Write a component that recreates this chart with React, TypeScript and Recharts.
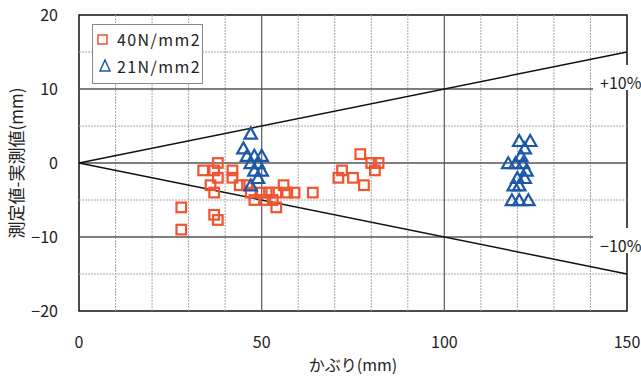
import { ScatterChart, Scatter, XAxis, YAxis, ReferenceLine, ReferenceArea, Legend } from "recharts";

const xTicks = [0, 50, 100, 150];
const yTicks = [-20, -10, 0, 10, 20];
const xMinorGrid = [10, 20, 30, 40, 60, 70, 80, 90, 110, 120, 130, 140];
const xMajorGrid = [50, 100];
const yMinorGrid = [-15, -5, 5, 15];
const yMajorGrid = [-10, 0, 10];

// 40N/mm2 (squares)
const c40x = [28, 28, 34, 36, 37, 37, 37, 38, 38, 38, 42, 42, 44, 46, 47, 48, 50, 51, 52, 53, 54, 54, 56, 57, 59, 64, 71, 72, 75, 77, 78, 80, 81, 82];
const c40y = [-6, -9, -1, -3, -1, -4, -7, 0, -2, -7.7, -1, -2, -3, -3, -4, -5, -4, -5, -4, -5, -4, -6, -3, -4, -4, -4, -2, -1, -2, 1.2, -3, 0, -1, 0];

// 21N/mm2 (triangles)
const c21x = [47, 45, 46, 48, 50, 47, 49, 48, 50, 49, 47, 120.5, 123.5, 122, 121, 117.5, 119.5, 121.5, 122.5, 120, 122, 119, 120.5, 118.5, 120.5, 123];
const c21y = [4, 2, 1, 1, 1, 0, 0, -1, -1, -2, -3, 3, 3, 2, 1, 0, 0, 0, -1, -2, -2, -3, -3, -5, -5, -5];

const bandLabels = ["+10%", "\u221210%"];
const bandRatio = [0.1, -0.1];
const xMax = 150;

const data40 = c40x.map((x, i) => ({ x, y: c40y[i] }));
const data21 = c21x.map((x, i) => ({ x, y: c21y[i] }));

const ORANGE = "#ee5530";
const BLUE = "#1d58a8";
const FONT = "'Noto Sans CJK JP', 'Noto Sans', sans-serif";

const Square = (props: any) => {
  const { cx, cy } = props;
  return <rect x={cx - 4.8} y={cy - 4.8} width={9.6} height={9.6} fill="none" stroke={ORANGE} strokeWidth={2.2} />;
};

const Triangle = (props: any) => {
  const { cx, cy } = props;
  return (
    <polygon
      points={`${cx},${cy - 5.8} ${cx + 6.2},${cy + 5.2} ${cx - 6.2},${cy + 5.2}`}
      fill="none"
      stroke={BLUE}
      strokeWidth={2.2}
      strokeLinejoin="miter"
    />
  );
};

const minus = (v: number) => String(v).replace("-", "\u2212");

const LegendBox = () => (
  <div
    style={{
      width: 109,
      height: 58,
      border: "1px solid #888",
      background: "#fff",
      fontFamily: FONT,
      fontSize: 16,
      color: "#222",
      letterSpacing: 1.4,
    }}
  >
    <div style={{ display: "flex", alignItems: "center", height: 24, marginTop: 2 }}>
      <svg width={24} height={20}>
        <rect x={5} y={6} width={9} height={9} fill="none" stroke={ORANGE} strokeWidth={1.5} />
      </svg>
      <span>40N/mm2</span>
    </div>
    <div style={{ display: "flex", alignItems: "center", height: 24, marginTop: 3 }}>
      <svg width={24} height={20}>
        <polygon points="12,4 17,15 7,15" fill="none" stroke={BLUE} strokeWidth={1.5} />
      </svg>
      <span>21N/mm2</span>
    </div>
  </div>
);

export default function App() {
  return (
    <div style={{ position: "absolute", left: 0, top: 0, width: 641, height: 378, background: "#fff", fontFamily: FONT }}>
      <ScatterChart width={641} height={378} margin={{ top: 15, right: 14, left: 0, bottom: 0 }}>
        <XAxis
          type="number"
          dataKey="x"
          domain={[0, 150]}
          ticks={xTicks}
          height={67}
          axisLine={false}
          tickLine={false}
          tickSize={0}
          tickMargin={26}
          tick={{ fill: "#222", fontSize: 16, fontFamily: FONT }}
          label={{ value: "かぶり(mm)", position: "center", dy: 21, fill: "#222", fontSize: 16, fontFamily: FONT }}
        />
        <YAxis
          type="number"
          dataKey="y"
          domain={[-20, 20]}
          ticks={yTicks}
          width={79}
          axisLine={false}
          tickLine={false}
          tickSize={0}
          tickMargin={21}
          tickFormatter={minus}
          tick={{ fill: "#222", fontSize: 16, fontFamily: FONT }}
          label={{ value: "測定値-実測値(mm)", angle: -90, position: "center", dx: -23, fill: "#222", fontSize: 17, fontFamily: FONT }}
        />
        {xMinorGrid.map((v) => (
          <ReferenceLine key={"xm" + v} x={v} stroke="#a8a8a8" strokeDasharray="2 1" />
        ))}
        {yMinorGrid.map((v) => (
          <ReferenceLine key={"ym" + v} y={v} stroke="#a8a8a8" strokeDasharray="2 1" />
        ))}
        {xMajorGrid.map((v) => (
          <ReferenceLine key={"xM" + v} x={v} stroke="#666" strokeWidth={1.3} />
        ))}
        {yMajorGrid.map((v) => (
          <ReferenceLine key={"yM" + v} y={v} stroke="#555" strokeWidth={1.3} />
        ))}
        {bandRatio.map((r) => (
          <ReferenceLine
            key={"b" + r}
            segment={[
              { x: 0, y: 0 },
              { x: xMax, y: xMax * r },
            ]}
            stroke="#111"
            strokeWidth={1.5}
          />
        ))}
        <ReferenceArea x1={0} x2={150} y1={-20} y2={20} fill="none" stroke="#111" strokeWidth={1.5} />
        <Legend
          layout="vertical"
          align="center"
          verticalAlign="middle"
          content={() => <LegendBox />}
          wrapperStyle={{ position: "absolute", left: 92, top: 24, width: 111 }}
        />
        <Scatter name="40N/mm2" data={data40} shape={<Square />} isAnimationActive={false} />
        <Scatter name="21N/mm2" data={data21} shape={<Triangle />} isAnimationActive={false} />
      </ScatterChart>
      {bandLabels.map((t, i) => (
        <div
          key={t}
          style={{
            position: "absolute",
            left: 593,
            top: i === 0 ? 65 : 228,
            width: 48,
            height: 25,
            background: "#fff",
            color: "#222",
            fontSize: 16,
            lineHeight: "16px",
            display: "flex",
            alignItems: "flex-end",
            paddingLeft: 7,
            boxSizing: "border-box",
            whiteSpace: "nowrap",
          }}
        >
          {t}
        </div>
      ))}
    </div>
  );
}
